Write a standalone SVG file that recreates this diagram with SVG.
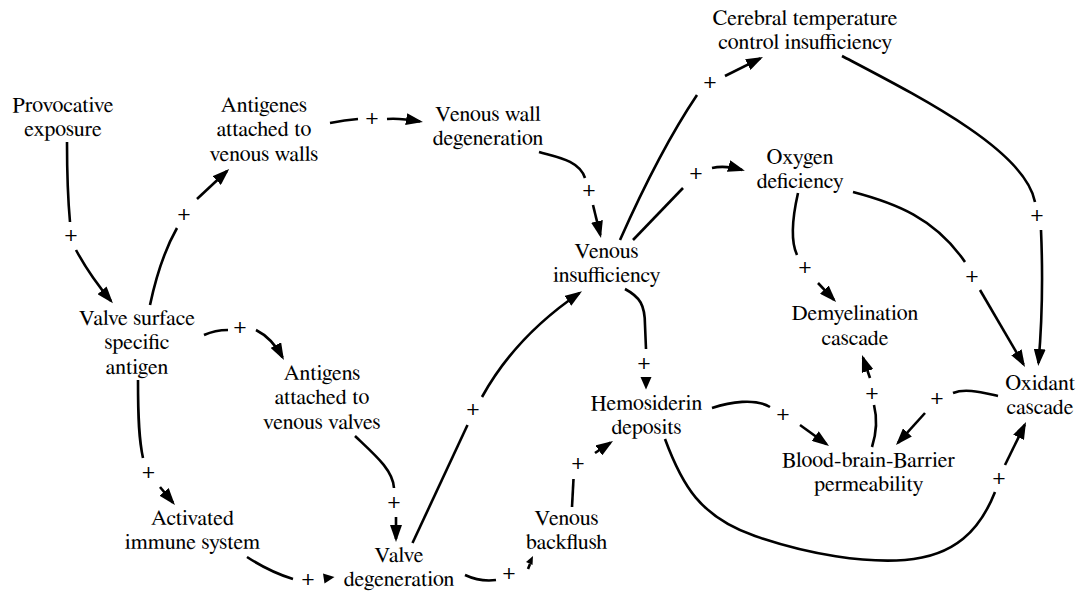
<svg xmlns="http://www.w3.org/2000/svg" width="1082" height="594" viewBox="0 0 1082 594">
  <style>
    text { font-family: "Nimbus Roman", "Nimbus Roman No9 L", "FreeSerif", "DejaVu Serif", serif; font-size: 22px; fill: #000; text-anchor: middle; }
    .link { fill: none; stroke: #000; stroke-width: 2.6; }
    .arrow { marker-end: url(#head); }
    .tip { fill: #000; stroke: none; }
  </style>
  <defs>
    <marker id="head" viewBox="0 0 17 12" markerWidth="17" markerHeight="12" refX="14" refY="6" orient="auto" markerUnits="userSpaceOnUse">
      <path d="M0,0 L17,6 L0,12 z" fill="#000"/>
    </marker>
  </defs>

  <rect width="1082" height="594" fill="#fff"/>

  <!-- causal links: each is a stroke up to the sign, a gap, then the arrow -->
  <g id="connectors">
    <g id="link-provocative-valvesurface">
      <path class="link" d="M67,142 C67,175 68,200 70,222"/>
      <text class="sign" x="71" y="240.5">+</text>
      <path class="link arrow" d="M76,250 Q90,276 111,301"/>
    </g>
    <g id="link-valvesurface-antigeneswalls">
      <path class="link" d="M150,305 Q160,258 177,228"/>
      <text class="sign" x="184" y="219.5">+</text>
      <path class="link arrow" d="M197,199 L227,171"/>
    </g>
    <g id="link-antigeneswalls-wallfailure">
      <path class="link" d="M330,123 Q345,120 358,119"/>
      <text class="sign" x="372" y="123.5">+</text>
      <path class="link arrow" d="M387,119 Q400,118 420,121.5"/>
    </g>
    <g id="link-wallfailure-insufficiency">
      <path class="link" d="M539,152 C556,157 579,160 585,178"/>
      <text class="sign" x="589" y="195.5">+</text>
      <path class="link arrow" d="M593,205 L600.3,235"/>
    </g>
    <g id="link-insufficiency-temperature">
      <path class="link" d="M620,240 Q660,150 697,95"/>
      <text class="sign" x="710" y="87.5">+</text>
      <path class="link arrow" d="M725,76 L760.3,58.3"/>
    </g>
    <g id="link-insufficiency-oxygen">
      <path class="link" d="M633,240 L683,188"/>
      <text class="sign" x="696" y="178.5">+</text>
      <path class="link arrow" d="M712,168 Q725,165 742,170"/>
    </g>
    <g id="link-temperature-oxidant">
      <path class="link" d="M842,56 C920,97 1025,150 1035,202"/>
      <text class="sign" x="1037" y="220.5">+</text>
      <path class="link arrow" d="M1041,230 Q1044,300 1038.5,363"/>
    </g>
    <g id="link-oxygen-demyelination">
      <path class="link" d="M798,193 C793,215 790,240 797,255"/>
      <text class="sign" x="805" y="272.5">+</text>
      <path class="link arrow" d="M818,283 L834,299.8"/>
    </g>
    <g id="link-oxygen-oxidant">
      <path class="link" d="M853,192 C895,203 935,218 965,262"/>
      <text class="sign" x="972" y="281.5">+</text>
      <path class="link arrow" d="M980,290 L1023.5,364.4"/>
    </g>
    <g id="link-valvesurface-antigensvalves">
      <path class="link" d="M204,335 Q215,330 228,330"/>
      <text class="sign" x="240" y="332.5">+</text>
      <path class="link arrow" d="M256,330 Q272,338 282.5,357.4"/>
    </g>
    <g id="link-valvesurface-immune">
      <path class="link" d="M138,380 C138,420 139,440 143,458"/>
      <text class="sign" x="148.5" y="477.5">+</text>
      <path class="link arrow" d="M160,487 L173,502.7"/>
    </g>
    <g id="link-immune-valvedegeneration">
      <path class="link" d="M247,557 Q270,572 293,579"/>
      <text class="sign" x="308" y="584.5">+</text>
      <polygon class="tip" points="323,573.5 334.5,577 324.5,583.5"/>
    </g>
    <g id="link-antigensvalves-valvedegeneration">
      <path class="link" d="M355,436 C375,455 393,470 394,488"/>
      <text class="sign" x="394" y="507.5">+</text>
      <path class="link arrow" d="M396,517 L396,539"/>
    </g>
    <g id="link-valvedegeneration-insufficiency">
      <path class="link" d="M412.5,543 L467.5,425"/>
      <text class="sign" x="473" y="414.5">+</text>
      <path class="link arrow" d="M482,397 C498,368 525,330 579.5,293"/>
    </g>
    <g id="link-valvedegeneration-backflush">
      <path class="link" d="M465,575 Q480,582 496,580"/>
      <text class="sign" x="509" y="579">+</text>
      <path class="link" d="M528,569 L530,564"/>
      <polygon class="tip" points="533,556 532.5,565 526,562"/>
    </g>
    <g id="link-backflush-hemosiderin">
      <path class="link" d="M572,507 L573.5,479"/>
      <text class="sign" x="578" y="468.5">+</text>
      <path class="link arrow" d="M595,453 L610.5,442.7"/>
    </g>
    <g id="link-insufficiency-hemosiderin">
      <path class="link" d="M625,289 C640,297 645,305 645,325 L646,349"/>
      <text class="sign" x="644" y="368.5">+</text>
      <polygon class="tip" points="640.5,377 651.5,377 646,389.5"/>
    </g>
    <g id="link-hemosiderin-barrier">
      <path class="link" d="M712,408 C730,402 755,398 770,407"/>
      <text class="sign" x="783" y="420">+</text>
      <path class="link arrow" d="M800,425 L826.6,444.2"/>
    </g>
    <g id="link-barrier-demyelination">
      <path class="link" d="M872,447 Q879,425 874,405"/>
      <text class="sign" x="872" y="398.5">+</text>
      <path class="link arrow" d="M870,378 L863,357.8"/>
    </g>
    <g id="link-oxidant-barrier">
      <path class="link" d="M998,396 C980,392 965,388 953,393"/>
      <text class="sign" x="937" y="403.5">+</text>
      <path class="link arrow" d="M925,413 L898,442.8"/>
    </g>
    <g id="link-hemosiderin-oxidant">
      <path class="link" d="M665,439 C682,485 700,517 755,536 C810,555 865,563 905,560 C955,556 980,530 995,492"/>
      <text class="sign" x="999" y="483.5">+</text>
      <path class="link arrow" d="M1005,465 L1024.7,424.7"/>
    </g>
  </g>

  <!-- variables -->
  <g id="nodes">
    <g id="node-provocative-exposure" class="node">
      <text x="63" y="111.5"><tspan x="63">Provocative</tspan><tspan x="63" dy="24.5">exposure</tspan></text>
    </g>
    <g id="node-antigenes-walls" class="node">
      <text x="264" y="111.5"><tspan x="264">Antigenes</tspan><tspan x="264" dy="24.5">attached to</tspan><tspan x="264" dy="24.5">venous walls</tspan></text>
    </g>
    <g id="node-venous-wall-degeneration" class="node">
      <text x="488" y="120.5"><tspan x="488">Venous wall</tspan><tspan x="488" dy="24.5">degeneration</tspan></text>
    </g>
    <g id="node-cerebral-temperature" class="node">
      <text x="805" y="24.5"><tspan x="805">Cerebral temperature</tspan><tspan x="805" dy="24.5">control insufficiency</tspan></text>
    </g>
    <g id="node-oxygen-deficiency" class="node">
      <text x="800" y="163.5"><tspan x="800">Oxygen</tspan><tspan x="800" dy="24.5">deficiency</tspan></text>
    </g>
    <g id="node-venous-insufficiency" class="node">
      <text x="606.5" y="257.5"><tspan x="606.5">Venous</tspan><tspan x="606.5" dy="24.5">insufficiency</tspan></text>
    </g>
    <g id="node-demyelination-cascade" class="node">
      <text x="855" y="320"><tspan x="855">Demyelination</tspan><tspan x="855" dy="24.5">cascade</tspan></text>
    </g>
    <g id="node-oxidant-cascade" class="node">
      <text x="1040" y="389.5"><tspan x="1040">Oxidant</tspan><tspan x="1040" dy="24.5">cascade</tspan></text>
    </g>
    <g id="node-valve-surface-antigen" class="node">
      <text x="137" y="324.5"><tspan x="137">Valve surface</tspan><tspan x="137" dy="24.5">specific</tspan><tspan x="137" dy="24.5">antigen</tspan></text>
    </g>
    <g id="node-antigens-valves" class="node">
      <text x="322" y="379.5"><tspan x="322">Antigens</tspan><tspan x="322" dy="24.5">attached to</tspan><tspan x="322" dy="24.5">venous valves</tspan></text>
    </g>
    <g id="node-hemosiderin-deposits" class="node">
      <text x="646.5" y="409.5"><tspan x="646.5">Hemosiderin</tspan><tspan x="646.5" dy="24.5">deposits</tspan></text>
    </g>
    <g id="node-bbb-permeability" class="node">
      <text x="868.5" y="466.5"><tspan x="868.5">Blood-brain-Barrier</tspan><tspan x="868.5" dy="24.5">permeability</tspan></text>
    </g>
    <g id="node-activated-immune" class="node">
      <text x="192.5" y="524.5"><tspan x="192.5">Activated</tspan><tspan x="192.5" dy="24.5">immune system</tspan></text>
    </g>
    <g id="node-valve-degeneration" class="node">
      <text x="399" y="561.5"><tspan x="399">Valve</tspan><tspan x="399" dy="24">degeneration</tspan></text>
    </g>
    <g id="node-venous-backflush" class="node">
      <text x="566.5" y="524.5"><tspan x="566.5">Venous</tspan><tspan x="566.5" dy="24.5">backflush</tspan></text>
    </g>
  </g>
</svg>
